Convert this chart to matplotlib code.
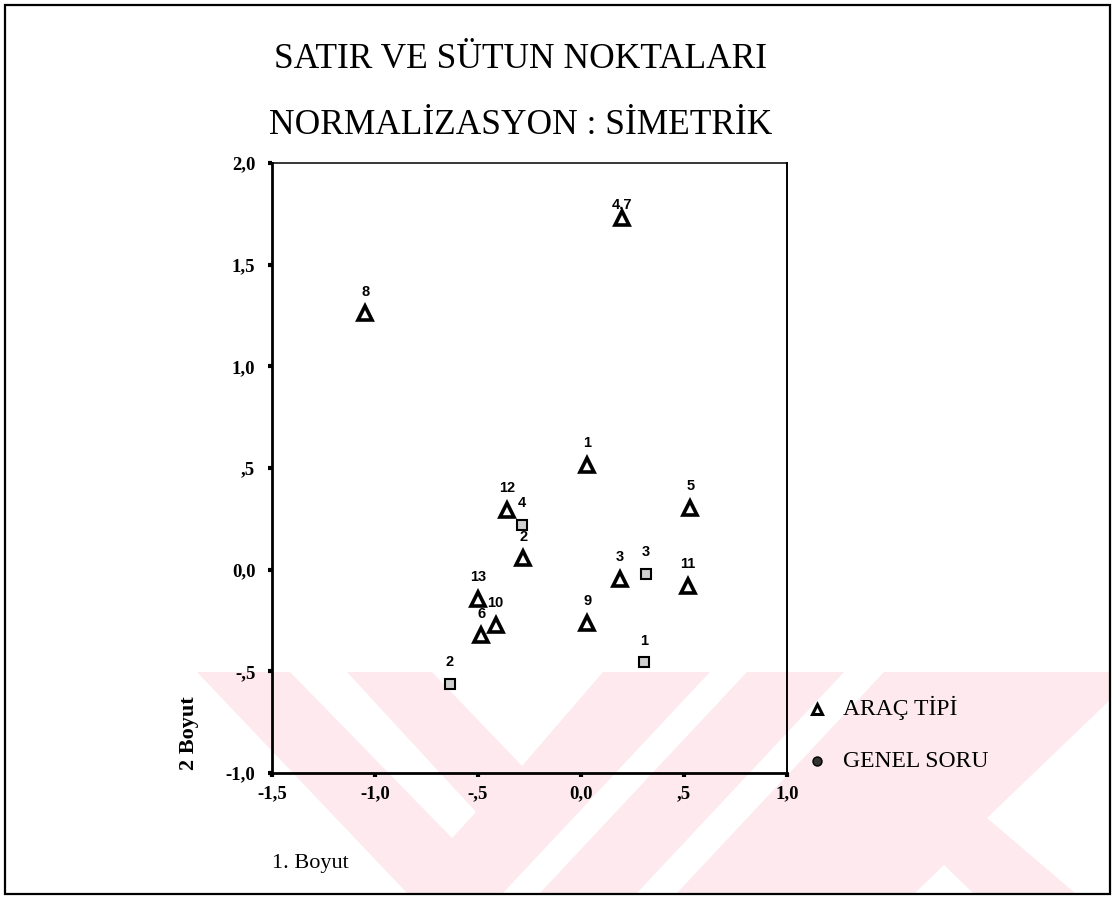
import matplotlib
matplotlib.use("Agg")
import matplotlib.pyplot as plt
from matplotlib.patches import Polygon, Rectangle
from matplotlib.lines import Line2D

W, H = 1114, 899

# ---- data -------------------------------------------------------------
row_labels = ['1', '2', '3', '4,7', '5', '6', '8', '9', '10', '11', '12', '13']
row_x = [0.03, -0.28, 0.19, 0.20, 0.53, -0.485, -1.048, 0.03, -0.415, 0.52, -0.36, -0.50]
row_y = [0.515, 0.055, -0.045, 1.73, 0.305, -0.323, 1.26, -0.26, -0.27, -0.08, 0.295, -0.143]

col_labels = ['1', '2', '3', '4']
col_x = [0.305, -0.637, 0.315, -0.285]
col_y = [-0.455, -0.56, -0.02, 0.222]

x_ticks = [-1.5, -1.0, -0.5, 0.0, 0.5, 1.0]
x_ticklabels = ['-1,5', '-1,0', '-,5', '0,0', ',5', '1,0']
y_ticks = [-1.0, -0.5, 0.0, 0.5, 1.0, 1.5, 2.0]
y_ticklabels = ['-1,0', '-,5', '0,0', ',5', '1,0', '1,5', '2,0']

title_lines = ['SATIR VE SÜTUN NOKTALARI', 'NORMALİZASYON : SİMETRİK']
x_label = '1. Boyut'
y_label = '2 Boyut'
legend_labels = ['ARAÇ TİPİ', 'GENEL SORU']

# ---- helpers ----------------------------------------------------------
def fx(px):
    return px / W

def fy(py):
    return 1 - py / H

SERIF = 'Liberation Serif'
SANS = 'Liberation Sans'
PINK = '#fde9ee'

fig = plt.figure(figsize=(W / 100, H / 100), dpi=100)
fig.patch.set_facecolor('white')

# watermark (pale pink diagonal bands)
pink_base = [(195, 672), (1110, 672), (1110, 893), (195, 893)]
white_cuts = [
    [(195, 672), (197, 672), (407, 893), (195, 893)],
    [(290, 672), (347, 672), (476, 812), (452, 838)],
    [(432, 672), (603, 672), (522, 766)],
    [(710, 672), (747, 672), (540, 893), (503, 893)],
    [(844, 672), (884, 672), (677, 893), (637, 893)],
    [(987, 818), (1110, 700), (1110, 893), (1075, 893)],
    [(915, 893), (944, 865), (973, 893)],
]
fig.add_artist(Polygon([(fx(a), fy(b)) for a, b in pink_base], closed=True,
                       transform=fig.transFigure, facecolor=PINK, edgecolor='none', zorder=-5))
for poly in white_cuts:
    fig.add_artist(Polygon([(fx(a), fy(b)) for a, b in poly], closed=True,
                           transform=fig.transFigure, facecolor='white', edgecolor='none', zorder=-4))

# outer border
fig.add_artist(Rectangle((fx(5), fy(894)), fx(1110) - fx(5), fy(5) - fy(894),
                         transform=fig.transFigure, fill=False, edgecolor='black',
                         linewidth=1.6, zorder=10))

# ---- axes -------------------------------------------------------------
ax = fig.add_axes([fx(272), fy(773), fx(787) - fx(272), fy(163) - fy(773)])
ax.set_facecolor('none')
ax.set_xlim(-1.5, 1.0)
ax.set_ylim(-1.0, 2.0)

ax.plot(row_x, row_y, linestyle='none', marker='^', markersize=9.5,
        markerfacecolor='white', markeredgecolor='black', markeredgewidth=2.6, zorder=3)
ax.plot(col_x, col_y, linestyle='none', marker='s', markersize=7.5,
        markerfacecolor='#cfcfcf', markeredgecolor='black', markeredgewidth=1.5, zorder=3)

label_offset = {'4,7': 9.5}
for lbl, x, y in zip(row_labels, row_x, row_y):
    ax.annotate(lbl, (x, y), xytext=(0, label_offset.get(lbl, 15.5)), textcoords='offset points',
                ha='center', va='center', fontfamily=SANS, fontweight='bold', fontsize=10.5)
for lbl, x, y in zip(col_labels, col_x, col_y):
    ax.annotate(lbl, (x, y), xytext=(0, 15.5), textcoords='offset points',
                ha='center', va='center', fontfamily=SANS, fontweight='bold', fontsize=10.5)

ax.set_xticks(x_ticks, x_ticklabels, fontfamily=SERIF, fontweight='bold', fontsize=13.5)
ax.set_yticks(y_ticks, y_ticklabels, fontfamily=SERIF, fontweight='bold', fontsize=13.5)
ax.tick_params(axis='both', direction='out', length=3, width=3, color='black')
ax.tick_params(axis='x', pad=6)
ax.tick_params(axis='y', pad=9)

ax.spines['left'].set_linewidth(2.0)
ax.spines['bottom'].set_linewidth(2.0)
ax.spines['right'].set_linewidth(1.4)
ax.spines['top'].set_linewidth(1.1)

# ---- texts ------------------------------------------------------------
fig.text(fx(521), fy(68), title_lines[0], ha='center', va='baseline',
         fontfamily=SERIF, fontsize=25.5)
fig.text(fx(521), fy(134), title_lines[1], ha='center', va='baseline',
         fontfamily=SERIF, fontsize=25.5)

fig.text(fx(189), fy(733), y_label, rotation=90, ha='center', va='center',
         fontfamily=SERIF, fontweight='bold', fontsize=16)
fig.text(fx(272), fy(868), x_label, ha='left', va='baseline',
         fontfamily=SERIF, fontsize=16)

# legend
legend_y = [715, 767]
fig.add_artist(Line2D([fx(817)], [fy(legend_y[0] - 6)], marker='^', markersize=6.5,
                      markerfacecolor='white', markeredgecolor='black', markeredgewidth=2.2,
                      transform=fig.transFigure))
fig.add_artist(Line2D([fx(817)], [fy(legend_y[1] - 6)], marker='o', markersize=6.5,
                      markerfacecolor='#333333', markeredgecolor='black', markeredgewidth=1.0,
                      transform=fig.transFigure))
for lbl, yy in zip(legend_labels, legend_y):
    fig.text(fx(843), fy(yy), lbl, ha='left', va='baseline', fontfamily=SERIF, fontsize=17)

fig.savefig('out.png', dpi=100)
